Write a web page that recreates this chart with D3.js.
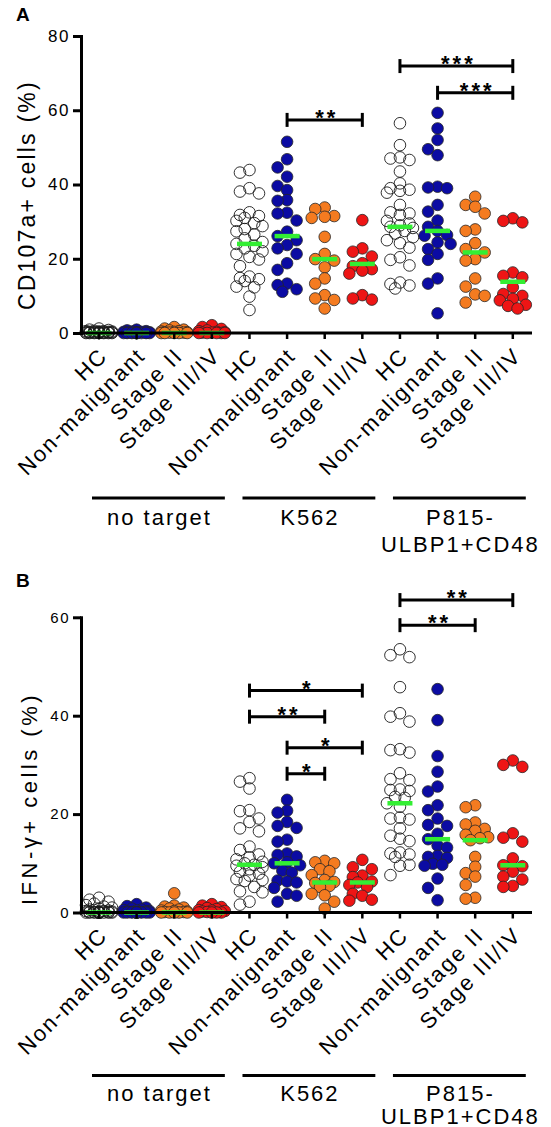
<!DOCTYPE html>
<html><head><meta charset="utf-8">
<script src="https://cdn.jsdelivr.net/npm/d3@7"></script>
<style>
body{margin:0;background:#fff}
svg{display:block}
text{font-family:"Liberation Sans",Arial,Helvetica,sans-serif;fill:#000}
</style>
</head><body>
<svg id="c" width="551" height="1127"></svg>
<script>
// ---------- DATA ----------
const categories = ["HC", "Non-malignant", "Stage II", "Stage III/IV"];
const targets = [["no target"], ["K562"], ["P815-", "ULBP1+CD48"]];

// Panel A: CD107a+ cells (%)
const cd107aTicks = [0, 20, 40, 60, 80];
const cd107aNoTarget = [
  [1.2,0.9,0.8,0.6,0.5,0.5,0.4,0.4,0.3,0.3,0.3,0.2,0.2,0.2,0.2,0.1,0.1,0.1,0.1,0.1,0,0,0,0,0,0,0,0,0,0],
  [0.9,0.7,0.5,0.4,0.3,0.3,0.2,0.2,0.1,0.1,0.1,0,0,0,0,0,0,0,0,0,0,0,0],
  [1.6,1.2,0.9,0.7,0.5,0.4,0.3,0.2,0.2,0.1,0.1,0,0,0,0,0],
  [2.1,1.6,1.1,0.7,0.5,0.3,0.2,0.1,0.1,0,0,0,0,0]
];
const cd107aK562 = [
  [43.9,43.2,39.0,38.1,37.6,32.5,31.8,31.5,31.0,30.2,29.6,28.8,28.0,27.4,26.5,25.5,24.5,24.0,23.5,22.8,22.0,21.3,20.5,19.8,18.0,15.2,14.8,14.5,14.0,12.5,12.3,9.8,6.2],
  [51.5,46.8,44.6,42.1,39.6,38.5,35.8,35.6,32.4,32.2,30.3,27.3,26.1,25.0,23.7,22.8,21.3,18.8,17.0,13.3,12.9,11.8,11.1],
  [33.8,33.4,31.5,31.3,31.0,25.9,21.3,19.9,19.5,17.7,14.7,13.3,10.2,9.3,8.9,6.6],
  [30.4,22.8,21.9,20.6,18.8,18.0,17.2,16.8,16.0,10.2,9.3,9.0]
];
const cd107aP815 = [
  [56.5,50.6,47.3,47.0,46.6,43.5,40.3,39.0,38.6,38.3,37.8,34.5,32.5,32.2,31.8,30.2,29.5,29.0,28.6,28.3,27.5,26.8,25.8,25.0,24.2,23.0,20.4,19.7,18.2,13.6,13.2,12.8,12.0],
  [59.3,55.1,52.0,49.5,47.9,39.4,39.2,39.0,34.5,32.7,30.3,28.6,27.5,26.4,26.2,24.4,24.0,22.6,21.3,19.7,14.7,13.3,5.3],
  [36.7,34.5,34.0,32.2,27.9,27.5,24.2,22.6,21.7,19.9,19.5,14.7,12.5,10.4,10.0,8.2],
  [30.9,30.2,29.8,16.3,15.4,15.0,12.3,10.5,10.0,9.2,8.8,7.6,7.3,6.6]
];
const cd107aMedians = [[0,0,0,0],[24.0,26.1,19.9,18.6],[28.6,27.5,21.7,13.8]];
// [from column, to column, level (%), label]
const cd107aSignif = [[5,7,57.4,"**"],[8,11,71.9,"***"],[9,11,64.7,"***"]];

// Panel B: IFN-γ+ cells (%)
const ifngTicks = [0, 20, 40, 60];
const ifngNoTarget = [
  [3.0,2.6,2.2,1.8,1.5,1.2,1.0,0.8,0.6,0.5,0.4,0.3,0.3,0.2,0.2,0.1,0.1,0.1,0,0,0,0,0,0,0,0,0,0,0,0,0],
  [1.7,1.3,1.0,0.8,0.6,0.5,0.4,0.3,0.2,0.2,0.1,0.1,0,0,0,0,0,0,0,0,0,0,0],
  [3.9,1.4,1.2,1.0,0.8,0.6,0.4,0.3,0.2,0.1,0.1,0,0,0,0,0],
  [1.7,1.4,1.1,0.9,0.7,0.5,0.4,0.3,0.2,0.1,0,0,0,0]
];
const ifngK562 = [
  [27.3,26.6,25.2,20.8,20.6,19.1,18.4,17.1,16.5,13.4,12.7,11.8,11.2,10.8,10.3,10.0,9.7,9.5,9.2,8.8,8.3,7.9,7.5,6.8,6.6,6.4,5.2,4.3,4.1,2.2,1.6],
  [22.9,20.7,20.3,18.4,17.6,17.2,14.8,14.4,12.0,11.7,11.4,10.2,10.0,9.6,8.5,8.1,6.5,6.3,6.1,5.0,3.8,3.4,2.2],
  [10.5,10.2,10.0,8.8,8.4,7.6,6.6,6.2,6.0,5.4,5.2,3.8,3.5,2.2,0.8],
  [10.7,9.2,8.8,7.5,7.2,6.3,6.1,5.6,5.2,3.8,3.4,2.6,2.4]
];
const ifngP815 = [
  [53.5,52.3,51.9,45.8,40.5,39.8,38.8,33.2,33.0,32.5,28.3,27.1,26.9,25.0,24.9,24.7,23.5,23.3,22.2,21.5,19.3,19.1,18.9,17.1,15.6,15.0,14.5,12.2,12.0,11.8,11.3,9.7,9.5,7.6],
  [45.4,39.1,31.8,28.6,25.6,24.6,21.8,20.8,19.1,17.8,17.6,16.0,14.9,13.6,13.2,11.5,11.3,11.1,9.9,9.7,9.5,6.9,5.0,2.5],
  [21.8,21.4,18.3,17.9,17.0,16.6,15.8,15.3,15.1,14.7,11.3,9.3,8.0,7.3,5.6,3.0,2.8],
  [30.9,30.0,29.6,16.1,15.2,14.4,11.0,9.6,9.4,8.3,7.3,6.7,5.4,5.2]
];
const ifngMedians = [[0,0,0,0],[9.7,10.0,6.1,6.1],[22.2,14.9,14.7,9.6]];
const ifngSignif = [[4,7,45.1,"*"],[4,6,39.8,"**"],[5,7,33.5,"*"],[5,6,28.2,"*"],[8,11,63.5,"**"],[8,10,58.4,"**"]];

// ---------- DRAWING ----------
const svg = d3.select("#c");
const x = d3.scalePoint().domain(d3.range(12)).range([99, 512.8]);
const fills = [null, "#0b0ba3", "#f47b20", "#ee1515"];

function swarm(vals, y){
  const offs = [0, -9.5, 9.5, -4.75, 4.75, -13, 13];
  const minD = 9.5;
  const placed = [];
  vals.slice().sort((a,b)=>b-a).forEach(v=>{
    const py = y(v);
    let best = 0, bestD = -1;
    for (const o of offs){
      let d = Infinity;
      for (const q of placed) d = Math.min(d, Math.hypot(o-q.dx, py-q.py));
      if (d >= minD){ best = o; bestD = d; break; }
      if (d > bestD){ bestD = d; best = o; }
    }
    placed.push({v, dx: best, py});
  });
  return placed;
}

function drawPanel(o){
  const y = d3.scaleLinear().domain(o.domain).range(o.range);
  const g = svg.append("g");
  const axisY = y(0);
  const cols = [...o.groups[0], ...o.groups[1], ...o.groups[2]];
  const meds = [...o.medians[0], ...o.medians[1], ...o.medians[2]];

  cols.forEach((vals, i)=>{
    const cat = i % 4;
    g.append("g").selectAll("circle").data(swarm(vals, y)).join("circle")
      .attr("cx", d=>x(i)+d.dx).attr("cy", d=>y(d.v)).attr("r", 5.8)
      .attr("fill", fills[cat] || "none")
      .attr("stroke", cat===0 ? "#1a1a1a" : "#262626")
      .attr("stroke-width", cat===0 ? 0.9 : 0.8);
  });

  g.append("g").selectAll("line").data(meds).join("line")
    .attr("x1", (d,i)=>x(i)-12.5).attr("x2", (d,i)=>x(i)+12.5)
    .attr("y1", d=>y(d)).attr("y2", d=>y(d))
    .attr("stroke", "#33ee33").attr("stroke-width", 4.5);

  // y axis
  const ya = g.append("g").attr("transform", "translate(81,0)")
    .call(d3.axisLeft(y).tickValues(o.ticks).tickSize(8).tickSizeOuter(0).tickPadding(3).tickFormat(d3.format("d")));
  ya.select(".domain").attr("stroke", "#000").attr("stroke-width", 3).attr("stroke-linecap", "square");
  ya.selectAll(".tick line").attr("stroke", "#000").attr("stroke-width", 3);
  ya.selectAll(".tick text").attr("font-size", o.tickFont).style("letter-spacing", "1.5px")
    .attr("font-family", '"Liberation Sans",Arial,sans-serif').attr("fill", "#000");

  // x axis
  g.append("line").attr("x1", 81).attr("x2", 532).attr("y1", axisY).attr("y2", axisY)
    .attr("stroke", "#000").attr("stroke-width", 3);
  g.append("g").selectAll("line").data(d3.range(12)).join("line")
    .attr("x1", d=>x(d)).attr("x2", d=>x(d)).attr("y1", axisY).attr("y2", axisY+6)
    .attr("stroke", "#000").attr("stroke-width", 2.5);

  // category labels
  g.append("g").selectAll("text").data(d3.range(12)).join("text")
    .attr("transform", d=>`translate(${x(d)+10},${axisY+24}) rotate(-45)`)
    .attr("text-anchor", "end").attr("font-size", 22).style("letter-spacing", "2px")
    .text(d=>categories[d%4]);

  // group lines and labels
  targets.forEach((lines, gi)=>{
    const x0 = x(gi*4)-7, x1 = x(gi*4+3)+13;
    const ly = axisY + o.groupGap;
    g.append("line").attr("x1", x0).attr("x2", x1).attr("y1", ly).attr("y2", ly)
      .attr("stroke", "#000").attr("stroke-width", 3);
    lines.forEach((t, li)=>{
      g.append("text").attr("x", (x0+x1)/2 + 1).attr("y", ly + o.textGap + li*o.lineGap)
        .attr("text-anchor", "middle").attr("font-size", 22).style("letter-spacing", "2px").text(t);
    });
  });

  // significance bars
  o.signif.forEach(([a, b, lvl, lab])=>{
    const yy = y(lvl);
    const sg = g.append("g").attr("stroke", "#000").attr("stroke-width", 3);
    sg.append("line").attr("x1", x(a)).attr("x2", x(b)).attr("y1", yy).attr("y2", yy);
    sg.append("line").attr("x1", x(a)).attr("x2", x(a)).attr("y1", yy-7).attr("y2", yy+7);
    sg.append("line").attr("x1", x(b)).attr("x2", x(b)).attr("y1", yy-7).attr("y2", yy+7);
    g.append("text").attr("x", (x(a)+x(b))/2 + 2).attr("y", yy + 5)
      .attr("text-anchor", "middle").attr("font-size", 22).attr("font-weight", "bold")
      .style("letter-spacing", "3px").text(lab);
  });

  // y title (starts at bottom, reads upward)
  g.append("text").attr("transform", `translate(${o.titleX},${o.titleBottom}) rotate(-90)`)
    .attr("text-anchor", "start").attr("font-size", o.titleFont)
    .style("letter-spacing", o.titleSpacing + "px").text(o.title);

  // panel letter
  g.append("text").attr("x", 16).attr("y", o.letterY).attr("font-size", 19)
    .attr("font-weight", "bold").text(o.letter);
}

drawPanel({
  domain: [0, 80], range: [333, 36], ticks: cd107aTicks, tickFont: 17,
  groups: [cd107aNoTarget, cd107aK562, cd107aP815], medians: cd107aMedians,
  signif: cd107aSignif, title: "CD107a+ cells (%)", titleX: 35, titleBottom: 310,
  titleFont: 23, titleSpacing: 2.2, letter: "A", letterY: 21,
  groupGap: 165, textGap: 27, lineGap: 27
});
drawPanel({
  domain: [0, 60], range: [912.5, 617.3], ticks: ifngTicks, tickFont: 15,
  groups: [ifngNoTarget, ifngK562, ifngP815], medians: ifngMedians,
  signif: ifngSignif, title: "IFN-\u03B3+ cells (%)", titleX: 37, titleBottom: 905,
  titleFont: 22, titleSpacing: 3.5, letter: "B", letterY: 587,
  groupGap: 163, textGap: 25, lineGap: 23
});
</script>
</body></html>
